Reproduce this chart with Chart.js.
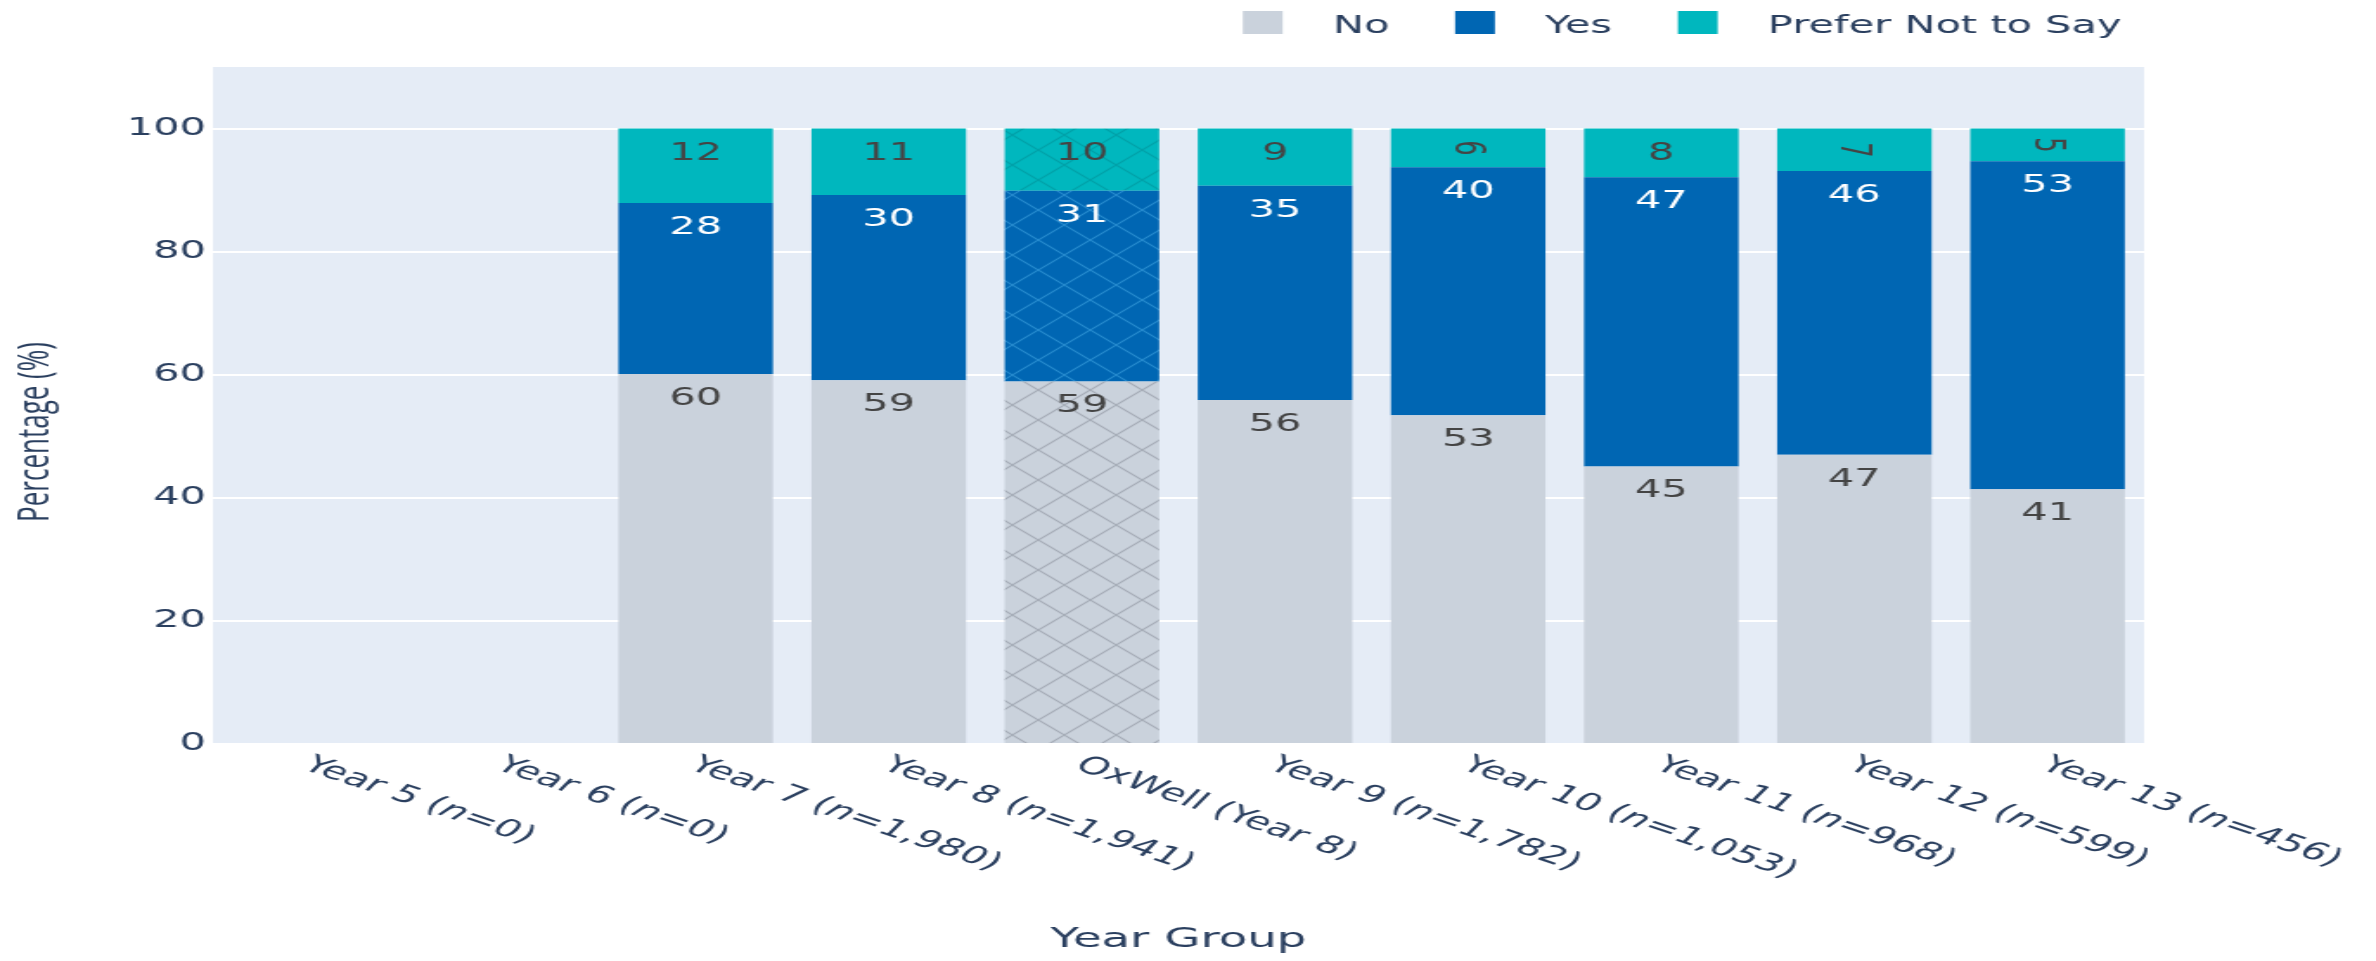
<!DOCTYPE html>
<html>
<head>
<meta charset="utf-8">
<script src="https://cdn.jsdelivr.net/npm/chart.js@4/dist/chart.umd.min.js"></script>
<style>
  html, body { margin: 0; padding: 0; background: #fff; overflow: hidden; }
  /* the reference is stretched sideways, so draw narrow and widen */
  #wrap { width: 1373px; height: 961px; transform: scale(1.7305, 1); transform-origin: 0 0; }
</style>
</head>
<body>
<div id="wrap"><canvas id="chart"></canvas></div>
<script>
const categories = ["Year 5 (n=0)", "Year 6 (n=0)", "Year 7 (n=1,980)", "Year 8 (n=1,941)", "OxWell (Year 8)",
    "Year 9 (n=1,782)", "Year 10 (n=1,053)", "Year 11 (n=968)", "Year 12 (n=599)", "Year 13 (n=456)"];
const noValues = [0, 0, 60.1, 59.1, 58.9, 55.9, 53.4, 45.1, 47.0, 41.4];
const yesValues = [0, 0, 27.8, 30.1, 31.0, 34.8, 40.3, 47.0, 46.1, 53.3];
const preferNotValues = [0, 0, 12.1, 10.8, 10.1, 9.3, 6.3, 7.9, 6.9, 5.3];
const seriesNames = ["No", "Yes", "Prefer Not to Say"];
const yTicks = [0, 20, 40, 60, 80, 100];
const hatchedGroups = ["OxWell (Year 8)"];

const FONT = "DejaVu Sans";
const TEXT = "#2a3f5f";

// cross hatch tile for the OxWell bar
function hatch(base, line) {
    const size = 30;
    const tile = document.createElement("canvas");
    tile.width = size; tile.height = size;
    const c = tile.getContext("2d");
    c.fillStyle = base;
    c.fillRect(0, 0, size, size);
    c.strokeStyle = line;
    c.lineWidth = 1.2;
    c.beginPath();
    c.moveTo(0, 0); c.lineTo(size, size);
    c.moveTo(size, 0); c.lineTo(0, size);
    c.stroke();
    return c.createPattern(tile, "repeat");
}

function colorsFor(base, line) {
    const pat = hatch(base, line);
    return categories.map(c => hatchedGroups.includes(c) ? pat : base);
}

const plotBackground = {
    id: "plotBackground",
    beforeDraw(chart) {
        const { ctx, chartArea: a } = chart;
        ctx.save();
        ctx.fillStyle = "#e5ecf6";
        ctx.fillRect(a.left, a.top, a.right - a.left, a.bottom - a.top);
        ctx.restore();
    },
};

// value text inside each bar segment, near its top
const barText = {
    id: "barText",
    afterDatasetsDraw(chart) {
        const { ctx } = chart;
        const textColors = ["#444", "#ffffff", "#444"];
        ctx.save();
        ctx.font = `24px ${FONT}`;
        ctx.textAlign = "center";
        chart.data.datasets.forEach((ds, d) => {
            chart.getDatasetMeta(d).data.forEach((bar, i) => {
                const value = ds.data[i];
                if (!value) return;
                const h = bar.base - bar.y;
                ctx.fillStyle = textColors[d];
                if (h < 46) {
                    ctx.save();
                    ctx.translate(bar.x, bar.y + h / 2);
                    ctx.rotate(Math.PI / 2);
                    ctx.textBaseline = "middle";
                    ctx.fillText(String(Math.round(value)), 0, 1);
                    ctx.restore();
                } else {
                    ctx.textBaseline = "alphabetic";
                    ctx.fillText(String(Math.round(value)), bar.x, bar.y + 31);
                }
            });
        });
        ctx.restore();
    },
};

// slanted category labels, axis titles and legend
const decorations = {
    id: "decorations",
    afterDraw(chart) {
        const { ctx, chartArea: a } = chart;
        const xs = chart.scales.x;
        ctx.save();
        ctx.fillStyle = TEXT;

        categories.forEach((label, i) => {
            const x = xs.getPixelForValue(i);
            ctx.save();
            ctx.translate(x - 2, a.bottom + 19);
            ctx.rotate(30 * Math.PI / 180);
            ctx.textBaseline = "middle";
            ctx.textAlign = "left";
            const m = label.match(/^(.*\()n(=.*)$/);
            const parts = m ? [[m[1], ""], ["n", "italic "], [m[2], ""]] : [[label, ""]];
            let cx = 0;
            parts.forEach(([t, style]) => {
                ctx.font = `${style}24px ${FONT}`;
                ctx.fillText(t, cx, 0);
                cx += ctx.measureText(t).width;
            });
            ctx.restore();
        });

        ctx.font = `27px ${FONT}`;
        ctx.textAlign = "center";
        ctx.textBaseline = "alphabetic";
        ctx.fillText("Year Group", (a.left + a.right) / 2, 947);

        ctx.save();
        ctx.translate(21, 432);
        ctx.rotate(-Math.PI / 2);
        ctx.font = `26px "Open Sans"`;
        ctx.textBaseline = "middle";
        ctx.fillText("Percentage (%)", 0, 0);
        ctx.restore();

        // legend, right aligned at the top
        ctx.font = `24px ${FONT}`;
        const box = 23, gapText = 29, gapItem = 38;
        const items = chart.data.datasets.map(ds => ({ text: ds.label, color: ds.legendColor }));
        let total = 0;
        items.forEach((it, k) => {
            total += box + gapText + ctx.measureText(it.text).width + (k < items.length - 1 ? gapItem : 0);
        });
        let lx = 1226 - total;
        items.forEach(it => {
            ctx.fillStyle = it.color;
            ctx.fillRect(lx, 11, box, box);
            lx += box + gapText;
            ctx.fillStyle = TEXT;
            ctx.textAlign = "left";
            ctx.fillText(it.text, lx, 33);
            lx += ctx.measureText(it.text).width + gapItem;
        });
        ctx.restore();
    },
};

const config = {
    type: "bar",
    data: {
        labels: categories,
        datasets: [
            {
                label: seriesNames[0],
                data: noValues,
                backgroundColor: colorsFor("#cad2dc", "rgba(120,126,138,0.45)"),
                legendColor: "#cad2dc",
            },
            {
                label: seriesNames[1],
                data: yesValues,
                backgroundColor: colorsFor("#0066b3", "rgba(70,170,230,0.55)"),
                legendColor: "#0066b3",
            },
            {
                label: seriesNames[2],
                data: preferNotValues,
                backgroundColor: colorsFor("#00b7be", "rgba(0,120,130,0.35)"),
                legendColor: "#00b7be",
            },
        ].map(ds => ({ ...ds, barPercentage: 0.8, categoryPercentage: 1, borderWidth: 0 })),
    },
    options: {
        responsive: true,
        maintainAspectRatio: false,
        animation: false,
        layout: { padding: { left: 0, right: 134, top: 67, bottom: 217 } },
        scales: {
            x: {
                stacked: true,
                display: false,
            },
            y: {
                stacked: true,
                min: 0,
                max: 110,
                afterBuildTicks: scale => { scale.ticks = yTicks.map(v => ({ value: v })); },
                afterFit: scale => { scale.width = 123; },
                grid: { color: "#ffffff", lineWidth: 2, drawTicks: false },
                border: { display: false },
                ticks: {
                    padding: 4,
                    color: TEXT,
                    font: { family: FONT, size: 24 },
                },
            },
        },
        plugins: {
            legend: { display: false },
            tooltip: { enabled: false },
        },
    },
    plugins: [plotBackground, barText, decorations],
};

new Chart(document.getElementById("chart"), config);
</script>
</body>
</html>
